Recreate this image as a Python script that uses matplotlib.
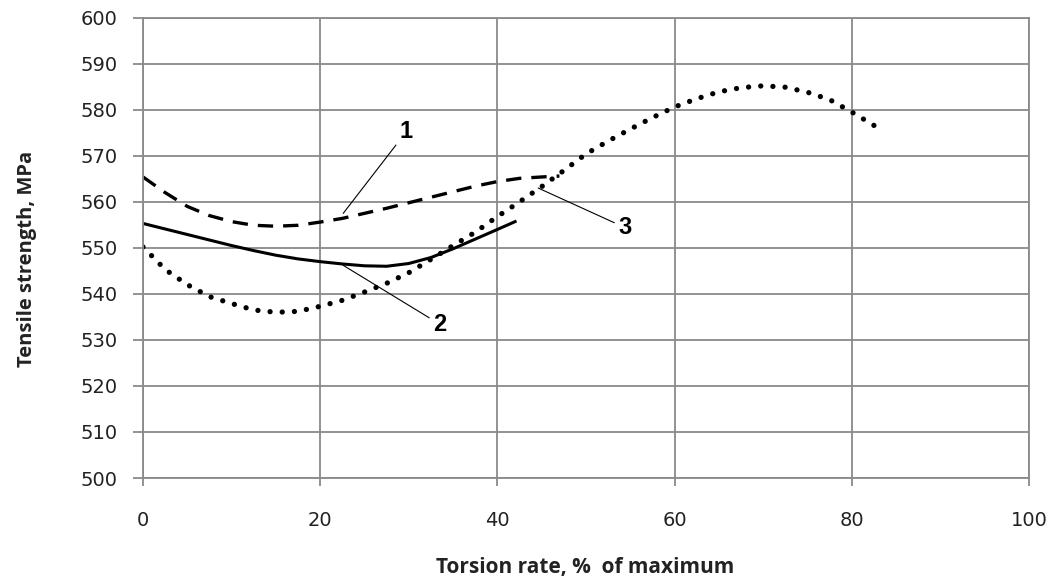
import matplotlib.pyplot as plt

# torsion rate, % of maximum
x1 = [0, 2.5, 5, 7.5, 10, 12.5, 15, 17.5, 20, 22.5, 25, 27.5, 30, 32.5, 35, 37.5, 40, 42.5, 45, 47]
x2 = [0, 2.5, 5, 7.5, 10, 12.5, 15, 17.5, 20, 22.5, 25, 27.5, 30, 32.5, 35, 37.5, 40, 42]
x3 = [0, 2.5, 5, 7.5, 10, 12.5, 15, 17.5, 20, 22.5, 25, 27.5, 30, 32.5, 35, 37.5, 40, 42.5,
      45, 47.5, 50, 52.5, 55, 57.5, 60, 62.5, 65, 67.5, 70, 72.5, 75, 77.5, 80, 82.5, 83.5]

# tensile strength, MPa
y1 = [565.4, 562.0, 559.0, 557.0, 555.7, 554.9, 554.7, 554.9, 555.6, 556.4, 557.5, 558.6,
      559.8, 561.0, 562.2, 563.4, 564.4, 565.1, 565.4, 565.6]
y2 = [555.3, 554.1, 552.9, 551.7, 550.5, 549.4, 548.4, 547.6, 547.0, 546.5, 546.1, 546.0,
      546.6, 547.9, 549.8, 551.9, 554.0, 555.7]
y3 = [550.2, 545.3, 542.0, 539.4, 537.9, 536.5, 536.0, 536.2, 537.3, 538.6, 540.4, 542.3,
      544.6, 547.5, 550.5, 553.4, 556.8, 560.0, 563.3, 566.8, 570.4, 573.2, 575.8, 578.3,
      580.6, 582.4, 583.9, 584.8, 585.2, 584.9, 583.8, 582.2, 579.5, 576.6, 575.0]

xticks = [0, 20, 40, 60, 80, 100]
yticks = [500, 510, 520, 530, 540, 550, 560, 570, 580, 590, 600]

grid_col = '#8a8a8a'

fig = plt.figure(figsize=(10.54, 5.8), dpi=100)
ax = fig.add_axes([143/1054, 1 - 478/580, (1029 - 143)/1054, (478 - 17.7)/580])

ax.plot(x1, y1, color='black', lw=2.4, linestyle=(0, (4.6, 3.0)), solid_capstyle='butt')
ax.plot(x2, y2, color='black', lw=2.2)
ax.plot(x3, y3, color='black', lw=3.8, linestyle=(0, (0.01, 2.3)), dash_capstyle='round')

ax.set_xlim(0, 100)
ax.set_ylim(500, 600)
ax.set_xticks(xticks)
ax.set_yticks(yticks)
ax.grid(True, color=grid_col, lw=1.3)
ax.set_axisbelow(True)
for s in ax.spines.values():
    s.set_color(grid_col)
    s.set_linewidth(1.3)

ax.tick_params(axis='y', direction='out', length=7, width=1.3, color=grid_col,
               pad=11, labelsize=14, labelcolor='#222222')
ax.tick_params(axis='x', direction='out', length=6, width=1.3, color=grid_col,
               pad=18, labelsize=14, labelcolor='#222222')

# curve numbers with leader lines
lead = dict(arrowstyle='-', color='black', lw=0.8, shrinkA=1, shrinkB=0)
ax.annotate('1', xy=(22.6, 557.5), xytext=(29.7, 575.2), ha='center', va='center',
            fontsize=17, fontweight='bold', family='Liberation Sans', arrowprops=lead)
ax.annotate('2', xy=(22.6, 546.2), xytext=(33.5, 533.4), ha='center', va='center',
            fontsize=17, fontweight='bold', family='Liberation Sans', arrowprops=lead)
ax.annotate('3', xy=(44.6, 563.0), xytext=(54.4, 554.4), ha='center', va='center',
            fontsize=17, fontweight='bold', family='Liberation Sans', arrowprops=lead)

fig.text(585/1054, 1 - 567/580, 'Torsion rate, %  of maximum', ha='center', va='center',
         fontsize=15, fontweight='bold', family='Open Sans', color='#222222')
fig.text(27/1054, 1 - 259/580, 'Tensile strength, MPa', ha='center', va='center',
         rotation=90, fontsize=14.5, fontweight='bold', family='Open Sans', color='#222222')

fig.savefig('out.png', dpi=100)
